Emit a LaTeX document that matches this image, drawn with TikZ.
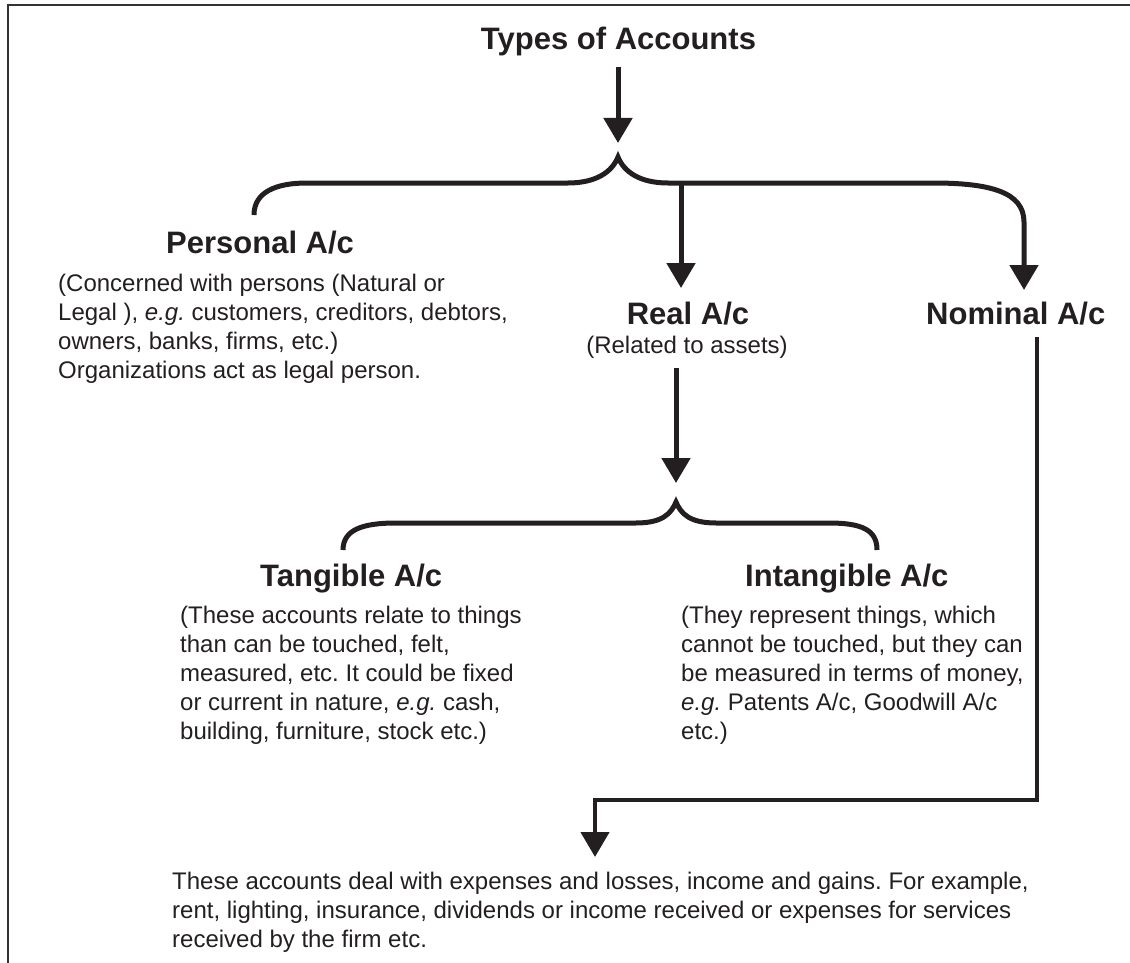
\documentclass[tikz,border=0pt]{standalone}
\usepackage{fontspec}
\setmainfont{Liberation Sans}
\usetikzlibrary{arrows.meta}
\definecolor{ink}{HTML}{231F20}
\frenchspacing
\begin{document}
\begin{tikzpicture}[x=1pt,y=-1pt,
  head/.style={font=\bfseries\fontsize{31}{37}\selectfont, text=ink, inner sep=0pt},
  body/.style={font=\fontsize{24}{29}\selectfont\frenchspacing, text=ink, inner sep=0pt, align=left},
  conn/.style={draw=ink, line width=5pt, -{Triangle[length=25pt,width=28pt]}},
  bracepath/.style={draw=ink, line width=5pt},
  framepath/.style={draw=black!80, line width=2pt}]
\useasboundingbox (0,0) rectangle (1130,963);
\draw[framepath] (8,963) -- (8,5) -- (1130,5);

% texts
\node[head, anchor=base] (title) at (618.5,50) {Types of Accounts};
\node[head, anchor=base west] (pers) at (166,253) {Personal A/c};
\node[body, anchor=north west] (perstext) at (58,270.7) {\strut(Concerned with persons (Natural or\\Legal ), {\itshape e.g.} customers, creditors, debtors,\\owners, banks, firms, etc.)\\Organizations act as legal person.};
\node[head, anchor=base] (real) at (688,324) {Real A/c};
\node[body, anchor=base] (realtext) at (687,353) {(Related to assets)};
\node[head, anchor=base west] (nominal) at (926,324) {Nominal A/c};
\node[head, anchor=base west] (tang) at (260,586) {Tangible A/c};
\node[head, anchor=base west] (intang) at (745,586) {Intangible A/c};
\node[body, anchor=north west] (tangtext) at (180,602.7) {\strut(These accounts relate to things\\than can be touched, felt,\\measured, etc. It could be fixed\\or current in nature, {\itshape e.g.} cash,\\building, furniture, stock etc.)};
\node[body, anchor=north west] (intangtext) at (681,602.7) {\strut(They represent things, which\\cannot be touched, but they can\\be measured in terms of money,\\{\itshape e.g.} Patents A/c, Goodwill A/c\\etc.)};
\node[body, anchor=north west] (nomtext) at (172,868.7) {\strut These accounts deal with expenses and losses, income and gains. For example,\\rent, lighting, insurance, dividends or income received or expenses for services\\received by the firm etc.};

% connector points
\coordinate (t1) at (618,67);
\coordinate (t1e) at (618,143);
\coordinate (b1l) at (254,215);
\coordinate (b1p) at (618,157);
\coordinate (b1r) at (1024,222);
\coordinate (nomtip) at (1024,290);
\coordinate (r1) at (681,183);
\coordinate (r1e) at (681,288);
\coordinate (r2) at (676,368);
\coordinate (r2e) at (676,483);
\coordinate (b2l) at (343,550);
\coordinate (b2p) at (676,502);
\coordinate (b2r) at (877,550);
\coordinate (n1) at (1037,337);
\coordinate (n2) at (1037,800);
\coordinate (n3) at (595,800);
\coordinate (n4) at (595,857);

\draw[conn] (t1) -- (t1e);
\draw[conn] (b1l) .. controls (254,192) and (276,183) .. (307,183) -- (568,183)
  .. controls (596,183) and (612,172) .. (b1p)
  .. controls (624,172) and (640,183) .. (668,183) -- (933,183)
  .. controls (990,183) and (1024,192) .. (b1r) -- (nomtip);
\draw[conn] (r1) -- (r1e);
\draw[conn] (r2) -- (r2e);
\draw[bracepath] (b2l) .. controls (343,530) and (362,523) .. (396,523) -- (636,523)
  .. controls (662,523) and (671,514) .. (b2p)
  .. controls (681,514) and (690,523) .. (716,523) -- (829,523)
  .. controls (862,523) and (877,530) .. (b2r);
\draw[conn, line width=4.5pt] (n1) -- (n2) -- (n3) -- (n4);
\end{tikzpicture}
\end{document}
